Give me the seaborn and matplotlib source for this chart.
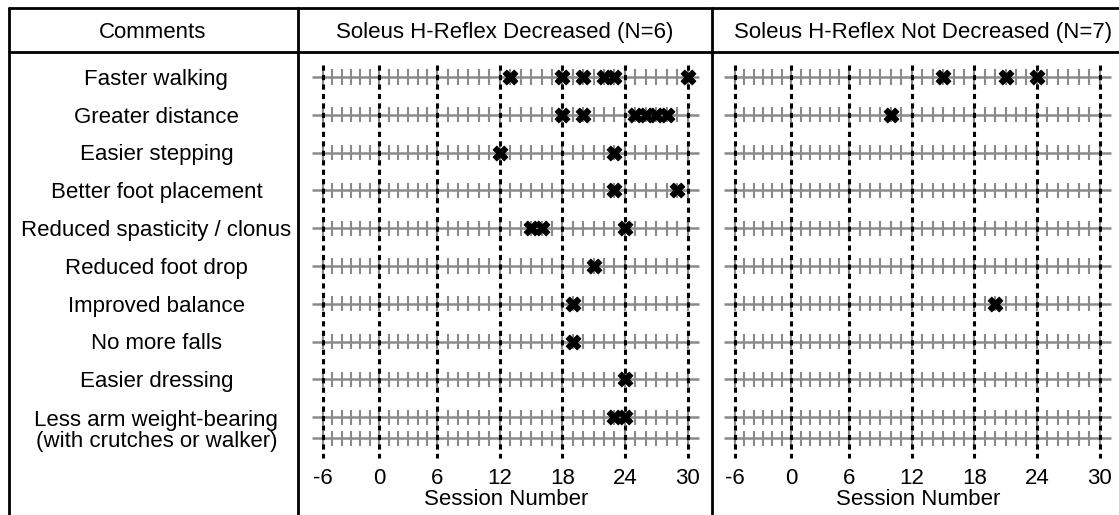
import numpy as np
import pandas as pd
import matplotlib
matplotlib.use("Agg")
import matplotlib.pyplot as plt
from matplotlib.lines import Line2D
import seaborn as sns

# ---------------- data ----------------
comments = [
    "Faster walking",
    "Greater distance",
    "Easier stepping",
    "Better foot placement",
    "Reduced spasticity / clonus",
    "Reduced foot drop",
    "Improved balance",
    "No more falls",
    "Easier dressing",
    "Less arm weight-bearing\n(with crutches or walker)",
]
decreased_sessions = [
    [13, 18, 20, 22, 23, 30],
    [18, 20, 25, 26, 27, 28],
    [12, 23],
    [23, 29],
    [15, 16, 24],
    [21],
    [19],
    [19],
    [24],
    [23, 24],
]
not_decreased_sessions = [
    [15, 21, 24],
    [10],
    [],
    [],
    [],
    [],
    [20],
    [],
    [],
    [],
]
panel_titles = ["Soleus H-Reflex Decreased (N=6)", "Soleus H-Reflex Not Decreased (N=7)"]
major_ticks = [-6, 0, 6, 12, 18, 24, 30]
session_range = (-6, 30)

# ---------------- style ----------------
sns.set_theme(style="white")
plt.rcParams["font.family"] = ["Liberation Sans", "DejaVu Sans"]
plt.rcParams["text.color"] = "black"
plt.rcParams["axes.labelcolor"] = "black"
plt.rcParams["xtick.color"] = "black"

W, H = 1119, 515
fig = plt.figure(figsize=(W / 100, H / 100), dpi=100)

def fx(px):
    return px / W

def fy(py):
    return 1 - py / H

# slightly non-uniform session axis as in the original figure
bp = np.array(major_ticks, dtype=float)
pp = np.array([0, 56.3, 114, 176.7, 239, 301.3, 364])

def fwd(x):
    x = np.asarray(x, dtype=float)
    y = np.interp(x, bp, pp)
    y = np.where(x < bp[0], pp[0] + (x - bp[0]) * (pp[1] - pp[0]) / (bp[1] - bp[0]), y)
    y = np.where(x > bp[-1], pp[-1] + (x - bp[-1]) * (pp[-1] - pp[-2]) / (bp[-1] - bp[-2]), y)
    return y

def inv(y):
    y = np.asarray(y, dtype=float)
    x = np.interp(y, pp, bp)
    x = np.where(y < pp[0], bp[0] + (y - pp[0]) * (bp[1] - bp[0]) / (pp[1] - pp[0]), x)
    x = np.where(y > pp[-1], bp[-1] + (y - pp[-1]) * (bp[-1] - bp[-2]) / (pp[-1] - pp[-2]), x)
    return x

n = len(comments)
line_rows = np.r_[np.arange(n), n - 1 + 0.55]
ylim = (10.13, -0.66)
ax_bottom, ax_top = 460, 52
fs = 16
header_baseline = 38

def make_panel(x_left, sessions, title, title_x):
    ax = fig.add_axes([fx(x_left), fy(ax_bottom), fx(413), (ax_bottom - ax_top) / H])
    ax.set_xscale("function", functions=(fwd, inv))
    ax.set_xlim(float(inv(-22.7)), float(inv(389.3)))
    ax.set_ylim(*ylim)
    for s in ax.spines.values():
        s.set_visible(False)
    # gray row lines and integer ticks
    ax.hlines(line_rows, -7.1, 31.1, color="#8a8a8a", lw=1.8, zorder=1)
    ints = np.arange(session_range[0], session_range[1] + 1)
    for r in line_rows:
        ax.vlines(ints, r - 0.2, r + 0.2, color="#8a8a8a", lw=1.5, zorder=1)
    # dashed major lines
    ax.vlines(major_ticks, -0.32, 10.08, color="black", lw=2.2,
              linestyles=[(0, (1.7, 1.4))], zorder=2)
    # markers
    df = pd.DataFrame(
        [(s, i) for i, row in enumerate(sessions) for s in row],
        columns=["session", "row"],
    )
    if len(df):
        sns.scatterplot(data=df, x="session", y="row", marker="X", s=115,
                        color="black", edgecolor="black", linewidth=0.6,
                        ax=ax, zorder=3, legend=False)
    ax.set_ylim(*ylim)
    ax.set_yticks([])
    ax.set_xticks(major_ticks)
    ax.set_xticklabels([str(t) for t in major_ticks], fontsize=fs)
    ax.xaxis.set_minor_locator(matplotlib.ticker.NullLocator())
    ax.tick_params(axis="x", length=0, pad=6)
    ax.set_xlabel("Session Number", fontsize=fs, labelpad=0)
    ax.set_ylabel("")
    ax.patch.set_alpha(0)
    fig.text(fx(title_x), fy(header_baseline), title, ha="center", va="baseline", fontsize=fs)
    return ax

make_panel(300, decreased_sessions, panel_titles[0], 505)
make_panel(712, not_decreased_sessions, panel_titles[1], 923)

# comments column
axc = fig.add_axes([fx(9), fy(ax_bottom), fx(289), (ax_bottom - ax_top) / H])
axc.set_xlim(0, 1)
axc.set_ylim(*ylim)
axc.axis("off")
for i, c in enumerate(comments):
    if "\n" in c:
        axc.text(0.51, i + 0.36, c, ha="center", va="center", fontsize=fs, linespacing=1.0)
    else:
        axc.text(0.51, i + 0.06, c, ha="center", va="center", fontsize=fs)
fig.text(fx(153), fy(header_baseline), "Comments", ha="center", va="baseline", fontsize=fs)

# table frame
lw = 2.0
for (x0, y0, x1, y1) in [
    (9, 8, 1119, 8),
    (9, 52, 1119, 52),
    (9, 8, 9, 515),
    (298, 8, 298, 515),
    (712, 8, 712, 515),
]:
    fig.add_artist(Line2D([fx(x0), fx(x1)], [fy(y0), fy(y1)],
                          transform=fig.transFigure, color="black", lw=lw))

fig.savefig("out.png", dpi=100)
